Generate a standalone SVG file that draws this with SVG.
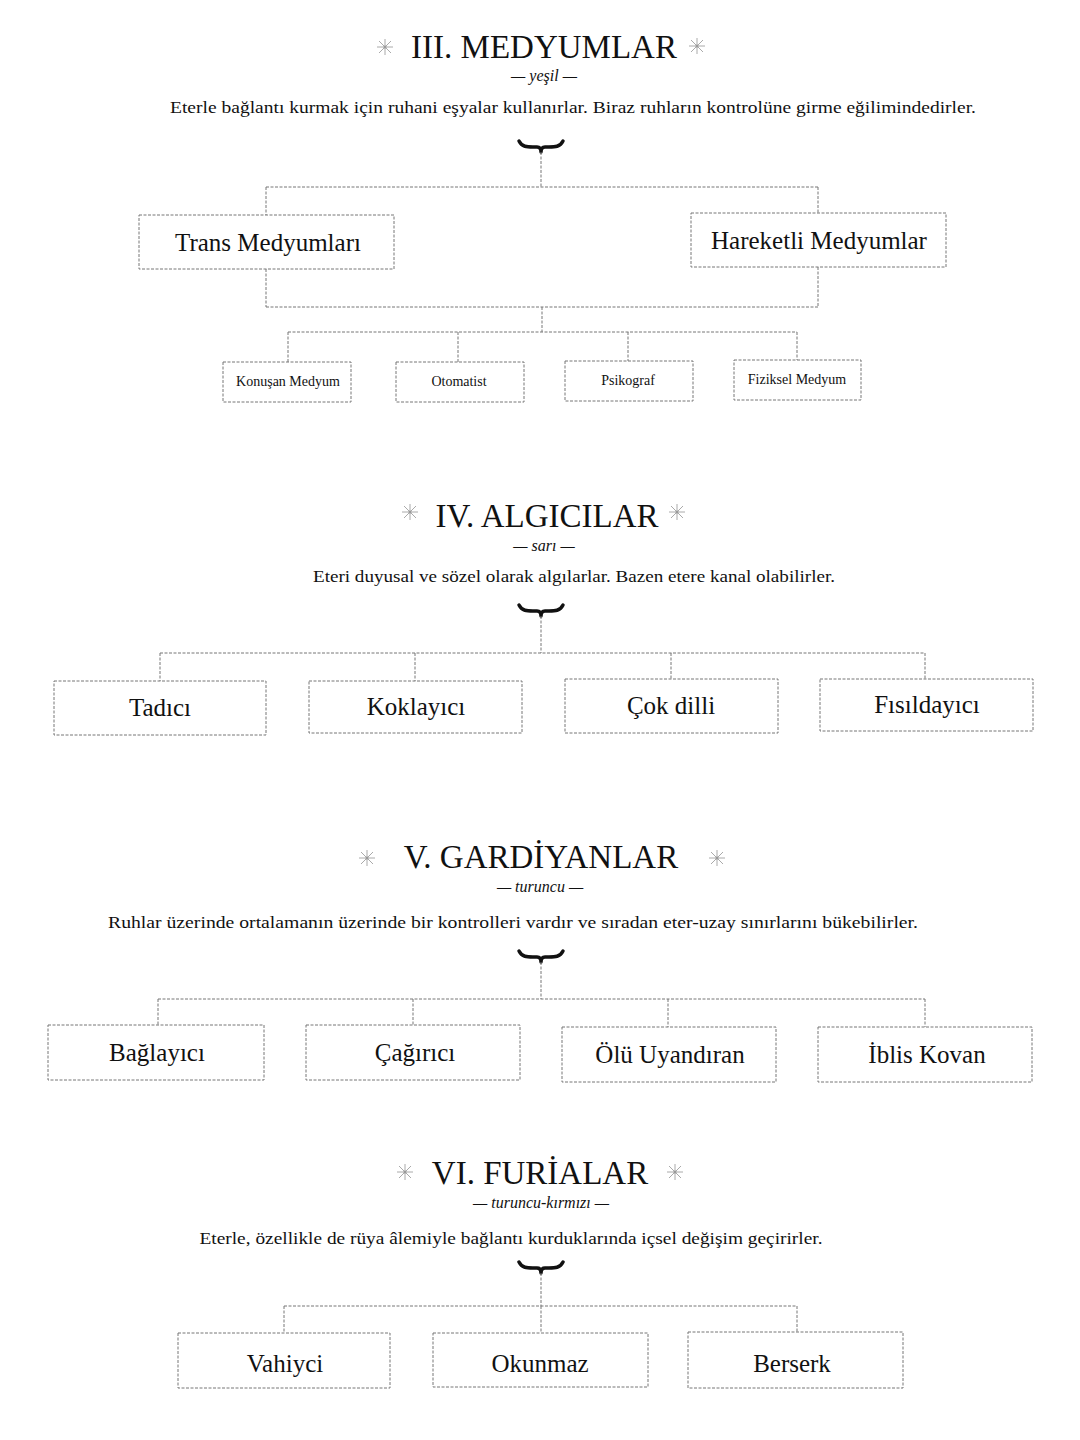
<svg xmlns="http://www.w3.org/2000/svg" xmlns:xlink="http://www.w3.org/1999/xlink" width="1080" height="1440" viewBox="0 0 1080 1440">
<style>
  .title{font-family:"Liberation Serif","DejaVu Serif",serif;font-size:33px;fill:#111;text-anchor:middle}
  .sub{font-family:"Liberation Serif","DejaVu Serif",serif;font-style:italic;font-size:16px;fill:#111;text-anchor:middle}
  .desc{font-family:"Liberation Serif","DejaVu Serif",serif;font-size:16.5px;fill:#111;text-anchor:middle}
  .lbl{font-family:"Liberation Serif","DejaVu Serif",serif;font-size:25px;fill:#111;text-anchor:middle}
  .slbl{font-family:"Liberation Serif","DejaVu Serif",serif;font-size:14px;fill:#111;text-anchor:middle}
  .box{fill:none;stroke:#777;stroke-width:1;stroke-dasharray:3 1.5}
  .ln{fill:none;stroke:#777;stroke-width:1;stroke-dasharray:3 1.5}
  .brace{fill:none;stroke:#111;stroke-width:3.5;stroke-linecap:round;stroke-linejoin:round}
  .star line{stroke:#aaa;stroke-width:1}
</style>
<defs>
  <g id="star" class="star">
    <line x1="-8" y1="0" x2="8" y2="0"/>
    <line x1="0" y1="-8" x2="0" y2="8"/>
    <line x1="-6" y1="-6" x2="6" y2="6"/>
    <line x1="-6" y1="6" x2="6" y2="-6"/>
    <circle cx="0" cy="0" r="1.5" fill="#999"/>
  </g>
  <path id="brace" class="brace" d="M-22,-9 C-19,-3 -14,-3 -8,-3 L-4,-3 C-1,-3 0,-1 0,2 C0,-1 1,-3 4,-3 L8,-3 C14,-3 19,-3 22,-9"/>
</defs>
<rect width="1080" height="1440" fill="#ffffff"/>

<!-- Section III -->
<g id="sec3-header">
  <use xlink:href="#star" x="385" y="47"/>
  <use xlink:href="#star" x="697" y="46"/>
  <text class="title" x="544" y="58">III. MEDYUMLAR</text>
  <text class="sub" x="544" y="81">— yeşil —</text>
  <text class="desc" x="573" y="113" textLength="806" lengthAdjust="spacingAndGlyphs">Eterle bağlantı kurmak için ruhani eşyalar kullanırlar. Biraz ruhların kontrolüne girme eğilimindedirler.</text>
  <use xlink:href="#brace" x="541" y="150"/>
</g>
<g id="trans"><rect class="box" x="139" y="215" width="255" height="54"/><text class="lbl" x="268" y="251">Trans Medyumları</text></g>
<g id="hareketli"><rect class="box" x="691" y="213" width="255" height="54"/><text class="lbl" x="819" y="249">Hareketli Medyumlar</text></g>
<g id="konusan"><rect class="box" x="223" y="362" width="128" height="40"/><text class="slbl" x="288" y="386">Konuşan Medyum</text></g>
<g id="otomatist"><rect class="box" x="396" y="362" width="128" height="40"/><text class="slbl" x="459" y="386">Otomatist</text></g>
<g id="psikograf"><rect class="box" x="565" y="361" width="128" height="40"/><text class="slbl" x="628" y="385">Psikograf</text></g>
<g id="fiziksel"><rect class="box" x="734" y="360" width="127" height="40"/><text class="slbl" x="797" y="384">Fiziksel Medyum</text></g>

<!-- Section IV -->
<g id="sec4-header">
  <use xlink:href="#star" x="410" y="512"/>
  <use xlink:href="#star" x="677" y="512"/>
  <text class="title" x="547" y="527">IV. ALGICILAR</text>
  <text class="sub" x="544" y="551">— sarı —</text>
  <text class="desc" x="574" y="582" textLength="522" lengthAdjust="spacingAndGlyphs">Eteri duyusal ve sözel olarak algılarlar. Bazen etere kanal olabilirler.</text>
  <use xlink:href="#brace" x="541" y="614"/>
</g>
<g id="tadici"><rect class="box" x="54" y="681" width="212" height="54"/><text class="lbl" x="160" y="716">Tadıcı</text></g>
<g id="koklayici"><rect class="box" x="309" y="681" width="213" height="52"/><text class="lbl" x="416" y="715">Koklayıcı</text></g>
<g id="cokdilli"><rect class="box" x="565" y="679" width="213" height="54"/><text class="lbl" x="671" y="714">Çok dilli</text></g>
<g id="fisildayici"><rect class="box" x="820" y="679" width="213" height="52"/><text class="lbl" x="927" y="713">Fısıldayıcı</text></g>

<!-- Section V -->
<g id="sec5-header">
  <use xlink:href="#star" x="367" y="858"/>
  <use xlink:href="#star" x="717" y="858"/>
  <text class="title" x="541" y="868">V. GARDİYANLAR</text>
  <text class="sub" x="540" y="892">— turuncu —</text>
  <text class="desc" x="513" y="928" textLength="810" lengthAdjust="spacingAndGlyphs">Ruhlar üzerinde ortalamanın üzerinde bir kontrolleri vardır ve sıradan eter-uzay sınırlarını bükebilirler.</text>
  <use xlink:href="#brace" x="541" y="960"/>
</g>
<g id="baglayici"><rect class="box" x="48" y="1025" width="216" height="55"/><text class="lbl" x="157" y="1061">Bağlayıcı</text></g>
<g id="cagirici"><rect class="box" x="306" y="1025" width="214" height="55"/><text class="lbl" x="415" y="1061">Çağırıcı</text></g>
<g id="olu"><rect class="box" x="562" y="1027" width="214" height="55"/><text class="lbl" x="670" y="1063">Ölü Uyandıran</text></g>
<g id="iblis"><rect class="box" x="818" y="1027" width="214" height="55"/><text class="lbl" x="927" y="1063">İblis Kovan</text></g>

<!-- Section VI -->
<g id="sec6-header">
  <use xlink:href="#star" x="405" y="1172"/>
  <use xlink:href="#star" x="675" y="1172"/>
  <text class="title" x="540" y="1184">VI. FURİALAR</text>
  <text class="sub" x="541" y="1208">— turuncu-kırmızı —</text>
  <text class="desc" x="511" y="1244" textLength="623" lengthAdjust="spacingAndGlyphs">Eterle, özellikle de rüya âlemiyle bağlantı kurduklarında içsel değişim geçirirler.</text>
  <use xlink:href="#brace" x="541" y="1271"/>
</g>
<g id="vahiyci"><rect class="box" x="178" y="1333" width="212" height="55"/><text class="lbl" x="285" y="1372">Vahiyci</text></g>
<g id="okunmaz"><rect class="box" x="433" y="1333" width="215" height="54"/><text class="lbl" x="540" y="1372">Okunmaz</text></g>
<g id="berserk"><rect class="box" x="688" y="1332" width="215" height="56"/><text class="lbl" x="792" y="1372">Berserk</text></g>

<g id="connectors">
  <!-- III -->
  <path class="ln" d="M541,152 V187 M266,187 H818 M266,187 V215 M818,187 V213"/>
  <path class="ln" d="M266,269 V307 M818,267 V307 M266,307 H818 M542,307 V332"/>
  <path class="ln" d="M288,332 H797 M288,332 V362 M458,332 V362 M628,332 V361 M797,332 V360"/>
  <!-- IV -->
  <path class="ln" d="M541,616 V653 M160,653 H925 M160,653 V681 M415,653 V681 M671,653 V679 M925,653 V679"/>
  <!-- V -->
  <path class="ln" d="M541,962 V999 M158,999 H925 M158,999 V1025 M413,999 V1025 M668,999 V1027 M925,999 V1027"/>
  <!-- VI -->
  <path class="ln" d="M541,1273 V1306 M284,1306 H797 M284,1306 V1333 M541,1306 V1333 M797,1306 V1332"/>
</g>
</svg>
